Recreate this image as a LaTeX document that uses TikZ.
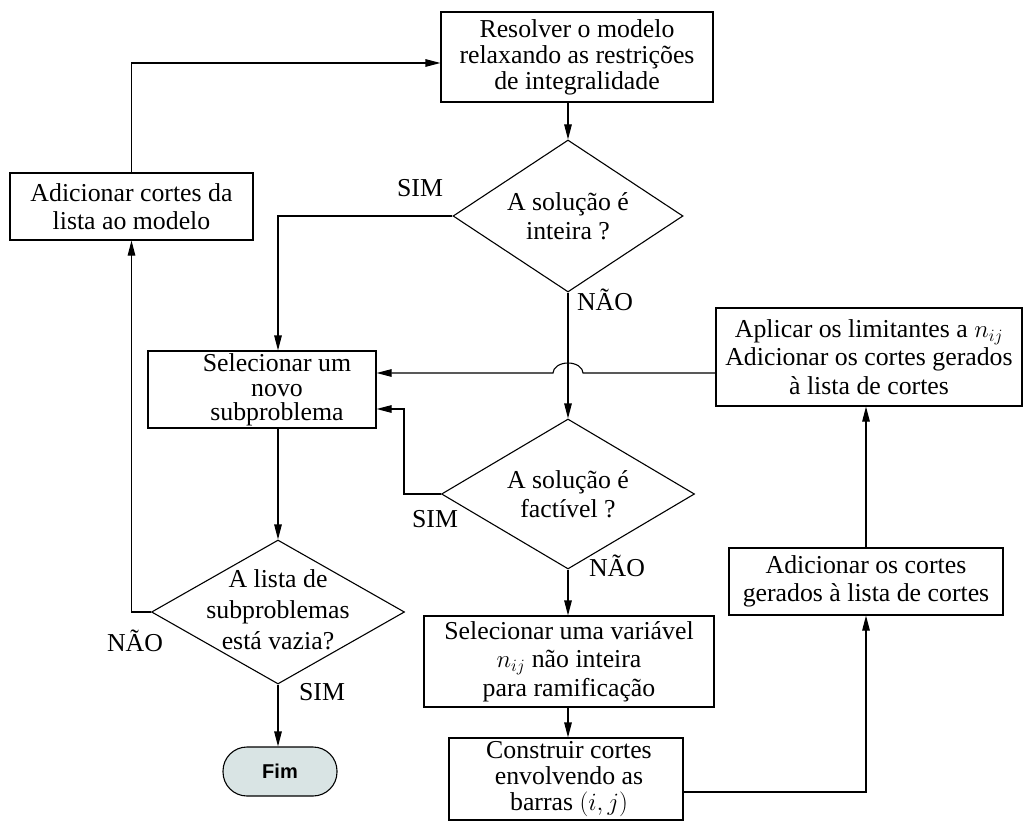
\documentclass[tikz,border=0pt]{standalone}
\usepackage{fontspec}
\setmainfont{Liberation Serif}
\newfontfamily\fimfont{Liberation Sans}
\usetikzlibrary{arrows.meta,shapes.geometric}
\definecolor{fimfill}{RGB}{217,228,228}
\tikzset{
  box/.style={draw, line width=1.1pt, rectangle, inner sep=0pt, align=center, font=\fontsize{25.8}{28.5}\selectfont},
  dia/.style={draw, line width=1.1pt, diamond, inner sep=0pt},
  txt/.style={inner sep=0pt, align=center, font=\fontsize{25.8}{28.5}\selectfont},
  lbl/.style={inner sep=0pt, font=\fontsize{25.8}{28}\selectfont},
  arr/.style={line width=1.1pt, -{Triangle[length=15pt,width=7.5pt]}},
  ln/.style={line width=1.1pt}
}
\begin{document}
\begin{tikzpicture}[x=1pt,y=-1pt]
\useasboundingbox (0,0) rectangle (1024,834);
% boxes
\node[box, minimum width=272pt, minimum height=90pt, font=\fontsize{25.8}{26}\selectfont] (res) at (577,57) {Resolver o modelo\\relaxando as restrições\\de integralidade};
\node[box, minimum width=243pt, minimum height=67pt] (addl) at (131.5,206.5) {Adicionar cortes da\\lista ao modelo};
\node[box, minimum width=228pt, minimum height=77pt] (sel) at (262,389.5) {};
\node[txt, font=\fontsize{25.8}{24.5}\selectfont] (selt) at (277,390) {Selecionar um\\novo\\subproblema};
\node[box, minimum width=306pt, minimum height=98pt] (apl) at (869,357) {Aplicar os limitantes a $n_{ij}$\\Adicionar os cortes gerados\\à lista de cortes};
\node[box, minimum width=290pt, minimum height=91pt] (selv) at (569,661.5) {Selecionar uma variável\\$n_{ij}$ não inteira\\para ramificação};
\node[box, minimum width=234pt, minimum height=82pt] (con) at (566,779) {};
\node[txt, font=\fontsize{25.8}{26}\selectfont] (cont) at (569,779) {Construir cortes\\envolvendo as\\barras $(i,j)$};
\node[box, minimum width=274pt, minimum height=67pt] (addg) at (866,581.5) {Adicionar os cortes\\gerados à lista de cortes};
\node[draw, line width=1.1pt, fill=fimfill, rounded corners=24pt, minimum width=114pt, minimum height=49pt, inner sep=0pt, font=\fimfont\bfseries\fontsize{20}{22}\selectfont] (fim) at (280,771.5) {Fim};
% diamonds
\node[dia, minimum width=230pt, minimum height=152pt] (d1) at (568,216) {};
\node[txt] (d1t) at (568,216) {A solução é\\inteira ?};
\node[dia, minimum width=253pt, minimum height=150pt] (d2) at (568,494) {};
\node[txt] (d2t) at (568,494) {A solução é\\factível ?};
\node[dia, minimum width=253pt, minimum height=144pt] (d3) at (278,612) {};
\node[txt, font=\fontsize{25.8}{31}\selectfont] (d3t) at (278,610) {A lista de\\subproblemas\\está vazia?};
% labels
\node[lbl] (sim1) at (420,188) {SIM};
\node[lbl] (nao1) at (605,300) {NÃO};
\node[lbl] (sim2) at (435,519) {SIM};
\node[lbl] (nao2) at (617,566) {NÃO};
\node[lbl] (nao3) at (135,641) {NÃO};
\node[lbl] (sim3) at (322,692) {SIM};
% helper coordinates
\coordinate (tl) at (131.5,63);
\coordinate (j) at (568,373);
\coordinate (s2) at (404,494);
\coordinate (s2t) at (404,409);
\coordinate (cb) at (683,792);
\coordinate (sb) at (278,428);
% connectors
\draw[arr] (addl.north) -- (tl) -- (res.west |- tl);
\draw[arr] (res.south -| d1.north) -- (d1.north);
\draw[arr] (d1.west) -- (d1.west -| sb) -- (sel.north -| sb);
\draw[arr] (d1.south) -- (d2.north);
\draw[arr] (apl.west |- j) -- ([xshift=15pt]j) arc[start angle=0, end angle=180, x radius=15pt, y radius=10pt] -- (sel.east |- j);
\draw[arr] (d2.west) -- (s2) -- (s2t) -- (sel.east |- s2t);
\draw[arr] (d2.south) -- (d2.south |- selv.north);
\draw[arr] (selv.south -| d2.south) -- (d2.south |- con.north);
\draw[arr] (cb) -- (addg.south |- cb) -- (addg.south);
\draw[arr] (addg.north) -- (addg.north |- apl.south);
\draw[arr] (sb) -- (d3.north);
\draw[arr] (d3.west) -- (addl.south |- d3.west) -- (addl.south);
\draw[arr] (d3.south) -- (d3.south |- fim.north);
\end{tikzpicture}
\end{document}
